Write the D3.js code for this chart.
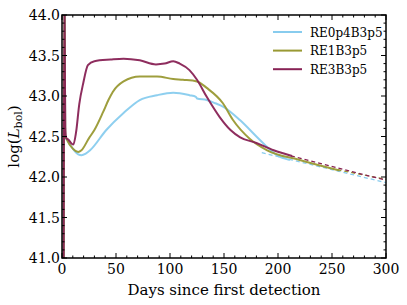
<!DOCTYPE html>
<html><head><meta charset="utf-8">
<script src="https://cdn.jsdelivr.net/npm/d3@7"></script>
<style>body{margin:0;background:#fff} svg text{font-family:'DejaVu Serif';}</style>
</head><body><svg id="c" width="407" height="305"></svg>
<script>
const seriesNames = ["RE0p4B3p5", "RE1B3p5", "RE3B3p5"];
const seriesColors = ["#88CCEE", "#999933", "#882255"];
const blueSolid = [[1.5,40.5],[2.2,44.5],[3,42.50],[5,42.45],[10,42.35],[15,42.28],[18,42.27],[22,42.29],[26,42.33],[41,42.58],[57,42.79],[72,42.95],[88,43.01],[103,43.04],[118,43.01],[124,42.99],[125,42.97],[134,42.95],[142,42.91],[149,42.87],[165,42.70],[180,42.50],[190,42.37],[199,42.27],[211,42.21]];
const oliveSolid = [[1.5,40.5],[2.2,44.5],[3,42.52],[5,42.45],[10,42.35],[15,42.31],[18,42.33],[25,42.48],[30,42.58],[38,42.80],[43,42.95],[47,43.05],[57,43.18],[72,43.24],[88,43.24],[103,43.21],[112,43.20],[125,43.18],[134,43.10],[149,42.91],[158,42.71],[174,42.47],[190,42.33],[220,42.21],[257,42.08]];
const wineSolid = [[1.5,40.5],[2.2,44.5],[3,42.6],[4,42.48],[6,42.46],[9,42.41],[10.5,42.40],[13,42.55],[16,42.9],[19.7,43.16],[24,43.38],[30,43.43],[45,43.45],[57,43.46],[72,43.44],[87,43.39],[95,43.40],[103,43.43],[109,43.40],[118,43.32],[125,43.20],[134,42.99],[146,42.74],[156,42.58],[165,42.49],[180,42.42],[196,42.33],[213,42.26]];
const blueTail = [[185,42.30],[300,41.93]];
const oliveTail = [[255,42.09],[300,41.97]];
const wineTail = [[212,42.26],[300,41.96]];
const xTicks = [0,50,100,150,200,250,300];
const yTicks = [41.0,41.5,42.0,42.5,43.0,43.5,44.0];

const svg = d3.select("#c");
const L = 62, R = 386, T = 15, B = 258;
const x = d3.scaleLinear().domain([0,300]).range([L,R]);
const y = d3.scaleLinear().domain([41,44]).range([B,T]);

svg.append("defs").append("clipPath").attr("id","cp").append("rect")
  .attr("x",L).attr("y",T).attr("width",R-L).attr("height",B-T);

const line = d3.line().x(d=>x(d[0])).y(d=>y(d[1])).curve(d3.curveMonotoneX);
const g = svg.append("g").attr("clip-path","url(#cp)");
const solids = [blueSolid, oliveSolid, wineSolid];
const tails = [blueTail, oliveTail, wineTail];
tails.forEach((t,i)=>{
  g.append("path").attr("d",d3.line().x(d=>x(d[0])).y(d=>y(d[1]))(t))
   .attr("fill","none").attr("stroke",seriesColors[i]).attr("stroke-width",1.3)
   .attr("stroke-dasharray","4,3");
});
solids.forEach((s,i)=>{
  g.append("path").attr("d",line(s)).attr("fill","none")
   .attr("stroke",seriesColors[i]).attr("stroke-width",2).attr("stroke-opacity",0.95);
});

const minorX = d3.range(0,301,10), minorY = d3.range(41,44.001,0.1);
const ax = svg.append("g");
function tick(x1,y1,x2,y2){ax.append("line").attr("x1",x1).attr("y1",y1).attr("x2",x2).attr("y2",y2).attr("stroke","#000").attr("stroke-width",1);}
minorX.forEach(v=>{const len = xTicks.includes(v)?5:2.5; tick(x(v),B,x(v),B-len); tick(x(v),T,x(v),T+len);});
minorY.forEach(v=>{const vv=Math.round(v*10)/10; const len = yTicks.some(t=>Math.abs(t-vv)<1e-6)?5:2.5; tick(L,y(vv),L+len,y(vv)); tick(R,y(vv),R-len,y(vv));});
ax.append("rect").attr("x",L).attr("y",T).attr("width",R-L).attr("height",B-T).attr("fill","none").attr("stroke","#000").attr("stroke-width",1.5);

xTicks.forEach(v=>svg.append("text").attr("x",x(v)).attr("y",B+16).attr("text-anchor","middle").attr("font-size",14).text(v));
yTicks.forEach(v=>svg.append("text").attr("x",L-2).attr("y",y(v)+5).attr("text-anchor","end").attr("font-size",14).text(v.toFixed(1)));

svg.append("text").attr("x",224).attr("y",295).attr("text-anchor","middle").attr("font-size",15).text("Days since first detection");
const yl = svg.append("text").attr("transform","translate(19,"+((T+B)/2)+") rotate(-90)").attr("text-anchor","middle").attr("font-size",15);
yl.append("tspan").text("log(");
yl.append("tspan").attr("font-style","italic").text("L");
yl.append("tspan").attr("font-size",11).attr("dy",3).text("bol");
yl.append("tspan").attr("dy",-3).text(")");

const lg = svg.append("g");
seriesNames.forEach((n,i)=>{
  const yy = 32 + i*18.6;
  lg.append("line").attr("x1",273).attr("x2",302).attr("y1",yy).attr("y2",yy).attr("stroke",seriesColors[i]).attr("stroke-width",2);
  lg.append("text").attr("x",310).attr("y",yy+4.5).attr("font-size",12).text(n);
});
</script></body></html>
